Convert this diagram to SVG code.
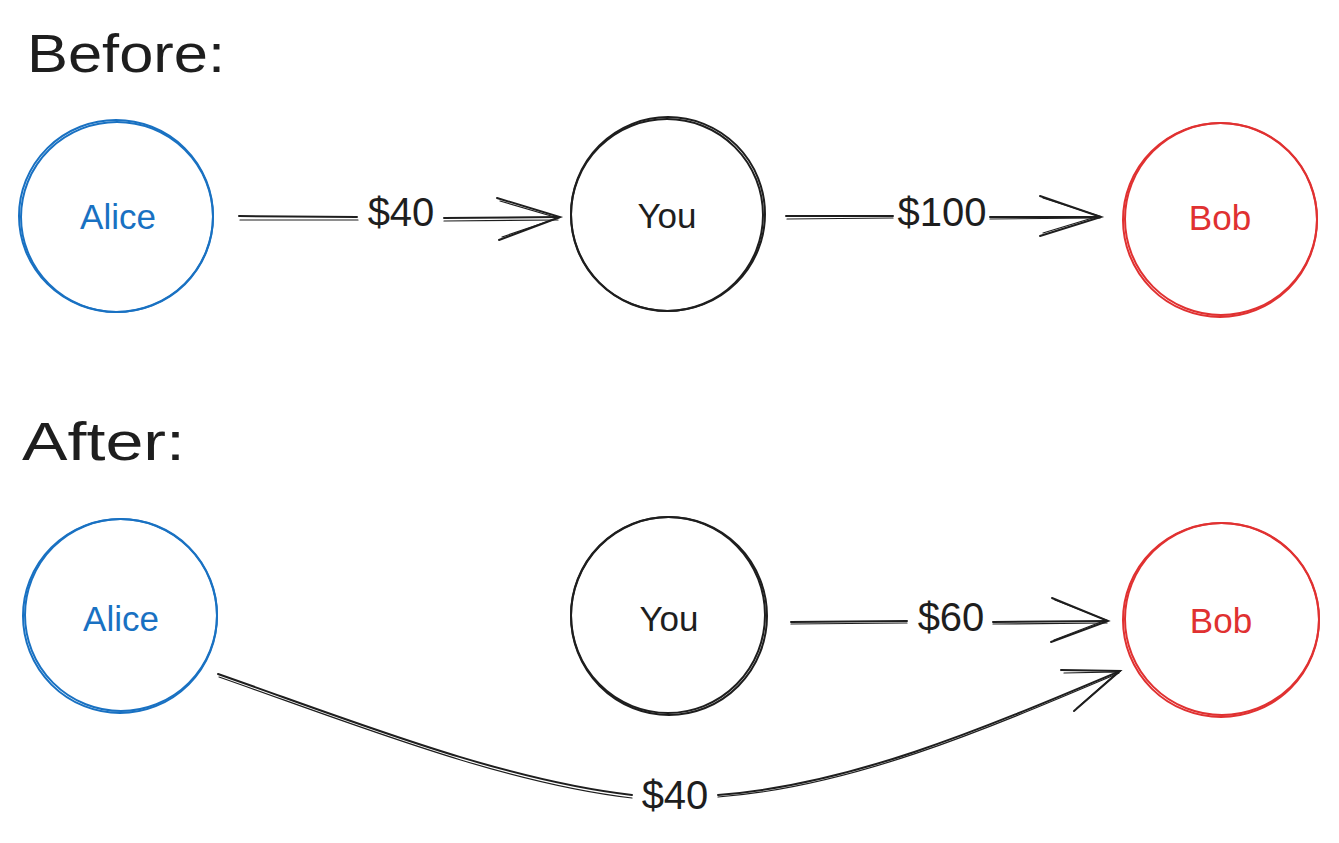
<svg xmlns="http://www.w3.org/2000/svg" width="1339" height="843" viewBox="0 0 1339 843">
<style>
.t{font-family:"Liberation Sans","DejaVu Sans",sans-serif;text-anchor:middle;dominant-baseline:central}
.h{font-family:"Liberation Sans","DejaVu Sans",sans-serif;font-size:54px;fill:#1e1e1e}
.blue{fill:none;stroke:#1971c2;stroke-width:2}
.red{fill:none;stroke:#e03131;stroke-width:2}
.blk{fill:none;stroke:#1e1e1e;stroke-width:2}
.ln{fill:none;stroke:#1e1e1e;stroke-width:2;stroke-linecap:round}
.ln2{fill:none;stroke:#1e1e1e;stroke-width:1.2;stroke-linecap:round}
.lbl{font-size:40px;fill:#1e1e1e}
.nm{font-size:35px}
</style>
<rect width="1339" height="843" fill="#ffffff"/>
<text class="h" x="27" y="72" textLength="198" lengthAdjust="spacingAndGlyphs">Before:</text>
<text class="h" x="22" y="460" textLength="163" lengthAdjust="spacingAndGlyphs">After:</text>

<g id="alice1">
<ellipse class="blue" cx="116" cy="216" rx="97" ry="96"/>
<ellipse class="blue" cx="117" cy="217" rx="96" ry="95" stroke-width="1"/>
<text class="t nm" x="118" y="216" fill="#1971c2">Alice</text>
</g>
<g id="you1">
<ellipse class="blk" cx="668" cy="214" rx="97" ry="97"/>
<ellipse class="blk" cx="667" cy="215" rx="96" ry="96" stroke-width="1"/>
<text class="t nm" x="667" y="215" fill="#1e1e1e">You</text>
</g>
<g id="bob1">
<ellipse class="red" cx="1220" cy="220" rx="97" ry="97"/>
<ellipse class="red" cx="1221" cy="219" rx="96" ry="96" stroke-width="1"/>
<text class="t nm" x="1220" y="217" fill="#e03131">Bob</text>
</g>

<g id="alice2">
<ellipse class="blue" cx="120" cy="616" rx="97" ry="97"/>
<ellipse class="blue" cx="121" cy="615" rx="96" ry="96" stroke-width="1"/>
<text class="t nm" x="121" y="618" fill="#1971c2">Alice</text>
</g>
<g id="you2">
<ellipse class="blk" cx="669" cy="616" rx="98" ry="99"/>
<ellipse class="blk" cx="668" cy="615" rx="97" ry="98" stroke-width="1"/>
<text class="t nm" x="669" y="618" fill="#1e1e1e">You</text>
</g>
<g id="bob2">
<ellipse class="red" cx="1221" cy="620" rx="98" ry="97"/>
<ellipse class="red" cx="1222" cy="619" rx="97" ry="96" stroke-width="1"/>
<text class="t nm" x="1221" y="620" fill="#e03131">Bob</text>
</g>

<g id="connectors">
<!-- Alice -> You $40 -->
<path class="ln" d="M239 216 L357 217"/>
<path class="ln2" d="M240 220 L358 220"/>
<path class="ln" d="M444 218 L559 217"/>
<path class="ln2" d="M444 221 L558 220"/>
<path class="ln" d="M497 198 L560 217 L499 240"/>
<path class="ln2" d="M500 201 L558 218 L502 237"/>
<text class="t lbl" x="401" y="212">$40</text>

<!-- You -> Bob $100 -->
<path class="ln" d="M786 216 L893 216"/>
<path class="ln2" d="M787 219 L893 218"/>
<path class="ln" d="M990 217 L1100 217"/>
<path class="ln2" d="M990 219 L1100 218"/>
<path class="ln" d="M1040 196 L1101 217 L1040 236"/>
<path class="ln2" d="M1043 198 L1099 216 L1043 233"/>
<text class="t lbl" x="942" y="212">$100</text>

<!-- You -> Bob $60 -->
<path class="ln" d="M791 622 L907 621"/>
<path class="ln2" d="M791 624 L907 623"/>
<path class="ln" d="M993 622 L1107 621"/>
<path class="ln2" d="M993 624 L1107 623"/>
<path class="ln" d="M1052 598 L1108 621 L1051 642"/>
<path class="ln2" d="M1055 600 L1106 620 L1054 640"/>
<text class="t lbl" x="951" y="617">$60</text>

<!-- Alice -> Bob $40 curve -->
<path class="ln" d="M218 674 C350 720 500 780 632 795"/>
<path class="ln2" d="M219 677 C351 723 501 783 632 798"/>
<path class="ln" d="M718 795 C850 785 980 730 1120 671"/>
<path class="ln2" d="M718 797 C850 787 980 732 1119 673"/>
<path class="ln" d="M1061 670 L1120 671 L1074 711"/>
<path class="ln2" d="M1064 673 L1118 672 L1077 708"/>
<text class="t lbl" x="675" y="795">$40</text>
</g>
</svg>
